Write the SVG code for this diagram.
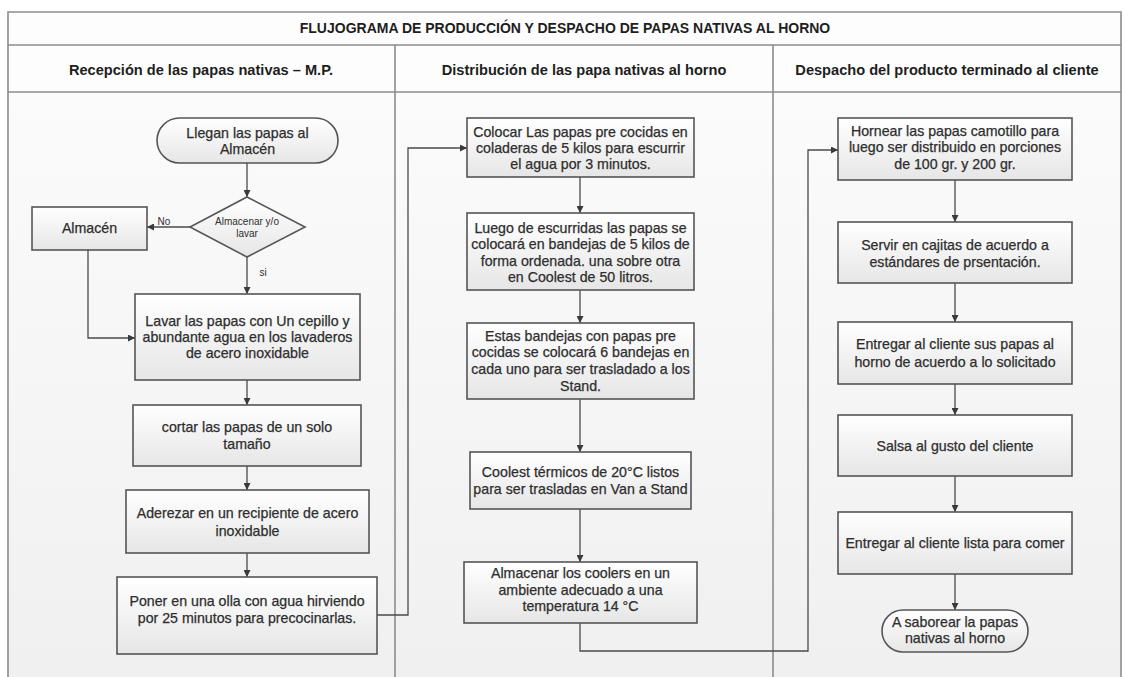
<svg xmlns="http://www.w3.org/2000/svg" width="1126" height="677" viewBox="0 0 1126 677">
  <defs>
    <linearGradient id="boxFill" x1="0" y1="0" x2="0" y2="1">
      <stop offset="0" stop-color="#ffffff"/>
      <stop offset="1" stop-color="#e6e6e6"/>
    </linearGradient>
    <linearGradient id="laneFill" x1="0" y1="0" x2="0" y2="1">
      <stop offset="0" stop-color="#fbfbfb"/>
      <stop offset="1" stop-color="#f0f0f0"/>
    </linearGradient>
    <marker id="arrow" viewBox="0 0 10 10" refX="10" refY="5" markerWidth="7" markerHeight="7" markerUnits="userSpaceOnUse" orient="auto">
      <path d="M0,0 L10,5 L0,10 z" fill="#3a3a3a"/>
    </marker>
  </defs>
  <style>
    .frame { fill: none; stroke: #8c8c8c; stroke-width: 1.6; }
    .box { fill: url(#boxFill); stroke: #555555; stroke-width: 1.6; }
    .conn { fill: none; stroke: #4a4a4a; stroke-width: 1.3; }
    .arr { marker-end: url(#arrow); }
    text { font-family: "Liberation Sans", Arial, sans-serif; fill: #2e2e2e; text-anchor: middle; }
    .t { font-size: 14.2px; stroke: #2e2e2e; stroke-width: 0.25px; }
    .title { font-size: 14px; font-weight: bold; fill: #1e1e1e; }
    .lane { font-size: 14.6px; font-weight: bold; fill: #1e1e1e; }
    .small { font-size: 10px; }
  </style>

  <rect width="1126" height="677" fill="#ffffff"/>

  <!-- swimlane frame -->
  <g id="swimlanes">
    <rect x="8" y="12" width="1113" height="80" fill="#fdfdfd"/>
    <rect x="8" y="92" width="1113" height="585" fill="url(#laneFill)"/>
    <path class="frame" d="M8,677 V12 H1121 V677"/>
    <path class="frame" d="M8,45 H1121 M8,92 H1121 M395,45 V677 M773,45 V677"/>
    <text class="title" x="565" y="33">FLUJOGRAMA DE PRODUCCIÓN Y DESPACHO DE PAPAS NATIVAS AL HORNO</text>
    <text class="lane" x="201" y="75">Recepción de las papas nativas – M.P.</text>
    <text class="lane" x="584" y="75">Distribución de las papa nativas al horno</text>
    <text class="lane" x="947" y="75">Despacho del producto terminado al cliente</text>
  </g>

  <!-- connectors -->
  <g id="connectors">
    <path class="conn arr" d="M247,163 V197"/>
    <path class="conn arr" d="M190,227 H147"/>
    <path class="conn arr" d="M247,257 V294"/>
    <path class="conn arr" d="M88,250 V338 H135"/>
    <path class="conn arr" d="M247,380 V405"/>
    <path class="conn arr" d="M247,466 V490"/>
    <path class="conn arr" d="M247,553 V577"/>
    <path class="conn arr" d="M377,615 H408 V148 H467"/>
    <path class="conn arr" d="M580,177 V213"/>
    <path class="conn arr" d="M580,290 V323"/>
    <path class="conn arr" d="M580,399 V452"/>
    <path class="conn arr" d="M580,509 V562"/>
    <path class="conn arr" d="M580,623 V651 H808 V150 H838"/>
    <path class="conn arr" d="M955,180 V222"/>
    <path class="conn arr" d="M955,283 V322"/>
    <path class="conn arr" d="M955,384 V415"/>
    <path class="conn arr" d="M955,476 V512"/>
    <path class="conn arr" d="M955,574 V610"/>
    <text class="small" x="164" y="225">No</text>
    <text class="small" x="263" y="276">si</text>
  </g>

  <!-- lane 1: reception -->
  <g id="n-llegan">
    <rect class="box" x="157" y="118" width="181" height="45" rx="22.5"/>
    <text class="t" x="247.5" y="138">Llegan las papas al</text>
    <text class="t" x="247.5" y="154">Almacén</text>
  </g>
  <g id="n-decision">
    <polygon class="box" points="247,197 305,227 247,257 190,227"/>
    <text class="small" x="247" y="225">Almacenar y/o</text>
    <text class="small" x="247" y="237">lavar</text>
  </g>
  <g id="n-almacen">
    <rect class="box" x="32" y="207" width="115" height="43"/>
    <text class="t" x="89.5" y="233">Almacén</text>
  </g>
  <g id="n-lavar">
    <rect class="box" x="135" y="294" width="225" height="86"/>
    <text class="t" x="247.5" y="326">Lavar las papas con Un cepillo y</text>
    <text class="t" x="247.5" y="342">abundante agua en los lavaderos</text>
    <text class="t" x="247.5" y="358">de acero inoxidable</text>
  </g>
  <g id="n-cortar">
    <rect class="box" x="133" y="405" width="228" height="61"/>
    <text class="t" x="247" y="432">cortar las papas de un solo</text>
    <text class="t" x="247" y="449">tamaño</text>
  </g>
  <g id="n-aderezar">
    <rect class="box" x="126" y="490" width="243" height="63"/>
    <text class="t" x="247.5" y="518">Aderezar en un recipiente de acero</text>
    <text class="t" x="247.5" y="536">inoxidable</text>
  </g>
  <g id="n-poner">
    <rect class="box" x="117" y="577" width="260" height="77"/>
    <text class="t" x="247" y="606">Poner en una olla con agua hirviendo</text>
    <text class="t" x="247" y="623">por 25 minutos para precocinarlas.</text>
  </g>

  <!-- lane 2: distribution -->
  <g id="n-colocar">
    <rect class="box" x="467" y="118" width="227" height="59"/>
    <text class="t" x="580.5" y="137">Colocar Las papas pre cocidas en</text>
    <text class="t" x="580.5" y="153">coladeras de 5 kilos para escurrir</text>
    <text class="t" x="580.5" y="169">el agua por 3 minutos.</text>
  </g>
  <g id="n-luego">
    <rect class="box" x="467" y="213" width="227" height="77"/>
    <text class="t" x="580.5" y="233">Luego de escurridas las papas se</text>
    <text class="t" x="580.5" y="249">colocará en bandejas de 5 kilos de</text>
    <text class="t" x="580.5" y="266">forma ordenada. una sobre otra</text>
    <text class="t" x="580.5" y="282">en Coolest de 50 litros.</text>
  </g>
  <g id="n-estas">
    <rect class="box" x="467" y="323" width="227" height="76"/>
    <text class="t" x="580.5" y="341">Estas bandejas con papas pre</text>
    <text class="t" x="580.5" y="357">cocidas se colocará 6 bandejas en</text>
    <text class="t" x="580.5" y="374">cada uno para ser trasladado a los</text>
    <text class="t" x="580.5" y="391">Stand.</text>
  </g>
  <g id="n-coolest">
    <rect class="box" x="470" y="452" width="221" height="57"/>
    <text class="t" x="580.5" y="477">Coolest térmicos de 20°C listos</text>
    <text class="t" x="580.5" y="494">para ser trasladas en Van a Stand</text>
  </g>
  <g id="n-almacenar">
    <rect class="box" x="464" y="562" width="233" height="61"/>
    <text class="t" x="580.5" y="578">Almacenar los coolers en un</text>
    <text class="t" x="580.5" y="595">ambiente adecuado a una</text>
    <text class="t" x="580.5" y="611">temperatura 14 °C</text>
  </g>

  <!-- lane 3: dispatch -->
  <g id="n-hornear">
    <rect class="box" x="838" y="118" width="234" height="62"/>
    <text class="t" x="955" y="136">Hornear las papas camotillo para</text>
    <text class="t" x="955" y="152">luego ser distribuido en porciones</text>
    <text class="t" x="955" y="169">de 100 gr. y 200 gr.</text>
  </g>
  <g id="n-servir">
    <rect class="box" x="838" y="222" width="234" height="61"/>
    <text class="t" x="955" y="250">Servir en cajitas de acuerdo a</text>
    <text class="t" x="955" y="267">estándares de prsentación.</text>
  </g>
  <g id="n-entregar">
    <rect class="box" x="838" y="322" width="234" height="62"/>
    <text class="t" x="955" y="349">Entregar al cliente sus papas al</text>
    <text class="t" x="955" y="367">horno de acuerdo a lo solicitado</text>
  </g>
  <g id="n-salsa">
    <rect class="box" x="838" y="415" width="234" height="61"/>
    <text class="t" x="955" y="451">Salsa al gusto del cliente</text>
  </g>
  <g id="n-entregar-lista">
    <rect class="box" x="838" y="512" width="234" height="62"/>
    <text class="t" x="955" y="548">Entregar al cliente lista para comer</text>
  </g>
  <g id="n-saborear">
    <rect class="box" x="882" y="610" width="146" height="42" rx="21"/>
    <text class="t" x="955" y="627">A saborear la papas</text>
    <text class="t" x="955" y="643">nativas al horno</text>
  </g>
</svg>
